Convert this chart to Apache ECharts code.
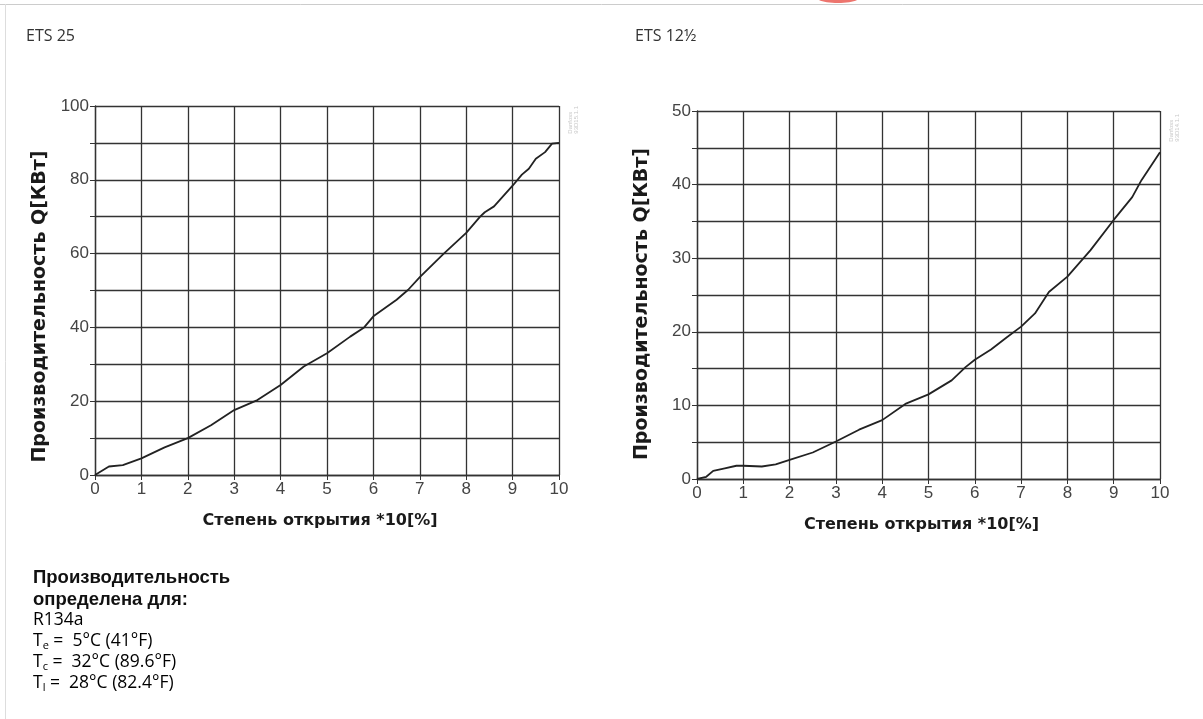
<!DOCTYPE html>
<html>
<head>
<meta charset="utf-8">
<script src="https://cdn.jsdelivr.net/npm/echarts@6/dist/echarts.min.js"></script>
<style>
html,body{margin:0;padding:0;background:#fff;}
#c{width:1203px;height:719px;}
</style>
</head>
<body>
<div id="c"></div>
<script>
// ETS 25: valve opening (*10 %) vs capacity Q [kW]
const open25 = [0,0.3,0.6,1,1.5,2,2.5,3,3.5,4,4.5,5,5.5,5.8,6,6.5,6.75,7,7.5,8,8.3,8.4,8.6,9,9.2,9.35,9.5,9.7,9.85,10];
const q25    = [0,2.3,2.7,4.5,7.5,10,13.5,17.6,20.3,24.4,29.4,33,37.5,40,43,47.5,50.2,53.6,59.8,65.6,70,71.2,72.8,78.4,81.4,83,85.7,87.5,89.8,90];
// ETS 12½
const open12 = [0,0.2,0.35,0.6,0.85,1,1.4,1.7,2,2.5,3,3.5,4,4.5,5,5.5,5.8,6,6.35,6.7,7,7.3,7.6,8,8.5,9,9.4,9.6,10];
const q12    = [0,0.3,1.1,1.45,1.8,1.8,1.7,2.0,2.6,3.6,5.1,6.7,8.0,10.2,11.5,13.4,15.2,16.2,17.6,19.3,20.7,22.5,25.4,27.5,31.1,35.2,38.3,40.6,44.4];

const titles = ['ETS 25', 'ETS 12½'];
const xName = 'Степень открытия *10[%]';
const yName = 'Производительность Q[КВт]';
const yMax = [100, 50];
const yStep = [10, 5];
const yLabelStep = [20, 10];

const chart = echarts.init(document.getElementById('c'), null, {renderer: 'canvas'});
const grids = [
  {left: 95, top: 106, width: 464, height: 369},
  {left: 697, top: 111, width: 463, height: 368}
];
const yNamePad = [[0, 32, 0, 0], [0, 18, 0, 0]];
function xAx(i){
  return {
    type: 'value', gridIndex: i, min: 0, max: 10, interval: 1,
    name: xName, nameLocation: 'middle', nameGap: 38,
    nameTextStyle: {fontFamily: 'DejaVu Sans', fontWeight: 'bold', fontSize: 16, color: '#1a1a1a', padding: [0, 14, 0, 0]},
    axisLine: {show: true, lineStyle: {color: '#333', width: 1.3}},
    axisTick: {show: true, length: 5, lineStyle: {color: '#333'}},
    axisLabel: {fontFamily: 'Liberation Sans', fontSize: 17, color: '#444', margin: 6},
    splitLine: {show: true, lineStyle: {color: '#333', width: 1.3}}
  };
}
function yAx(i){
  return {
    type: 'value', gridIndex: i, min: 0, max: yMax[i], interval: yStep[i],
    name: yName, nameLocation: 'middle', nameGap: 45,
    nameTextStyle: {fontFamily: 'DejaVu Sans', fontWeight: 'bold', fontSize: 19, color: '#1a1a1a', padding: yNamePad[i]},
    axisLine: {show: true, lineStyle: {color: '#333', width: 1.3}},
    axisTick: {show: true, length: 5, lineStyle: {color: '#333'}},
    axisLabel: {fontFamily: 'Liberation Sans', fontSize: 17, color: '#444', margin: 6,
      formatter: v => (v % yLabelStep[i] === 0 ? String(v) : '')},
    splitLine: {show: true, lineStyle: {color: '#333', width: 1.3}}
  };
}
const tStyle = {fontFamily: 'Open Sans', fontSize: 16, color: '#333', fontWeight: 'normal'};
const rich = {
  b: {fontFamily: 'Open Sans', fontSize: 17.5, color: '#333', lineHeight: 21},
  s: {fontFamily: 'Open Sans', fontSize: 11, color: '#333', verticalAlign: 'bottom', padding: [9,0,0,0], lineHeight: 21}
};
chart.setOption({
  animation: false,
  backgroundColor: '#fff',
  title: [
    {text: titles[0], left: 21, top: 23, textStyle: tStyle},
    {text: titles[1], left: 630, top: 23, textStyle: tStyle}
  ],
  grid: grids,
  xAxis: [xAx(0), xAx(1)],
  yAxis: [yAx(0), yAx(1)],
  series: [
    {type: 'line', xAxisIndex: 0, yAxisIndex: 0, showSymbol: false, symbol: 'none',
     lineStyle: {color: '#222', width: 1.8}, data: open25.map((x, k) => [x, q25[k]])},
    {type: 'line', xAxisIndex: 1, yAxisIndex: 1, showSymbol: false, symbol: 'none',
     lineStyle: {color: '#222', width: 1.8}, data: open12.map((x, k) => [x, q12[k]])}
  ],
  graphic: [
    {type: 'line', shape: {x1: 0, y1: 4.5, x2: 1203, y2: 4.5}, style: {stroke: '#ccc', lineWidth: 1}},
    {type: 'line', shape: {x1: 5.5, y1: 4, x2: 5.5, y2: 719}, style: {stroke: '#ddd', lineWidth: 1}},
    {type: 'ellipse', shape: {cx: 838, cy: -3, rx: 22, ry: 6}, style: {fill: '#e8534a', opacity: 0.8}},
    {type: 'text', left: 567, top: 106, rotation: Math.PI/2,
     style: {text: 'Danfoss\n93D15.1.1', font: '6px Liberation Sans', fill: '#c8c8c8'}},
    {type: 'text', left: 1168, top: 114, rotation: Math.PI/2,
     style: {text: 'Danfoss\n93D14.1.1', font: '6px Liberation Sans', fill: '#c8c8c8'}},
    {type: 'text', left: 33, top: 567,
     style: {text: 'Производительность\nопределена для:', font: 'bold 18.5px Liberation Sans', fill: '#111', lineHeight: 22}},
    {type: 'text', left: 33, top: 611,
     style: {text: '{b|R134a}\n{b|T}{s|e}{b| =  5°C (41°F)}\n{b|T}{s|c}{b| =  32°C (89.6°F)}\n{b|T}{s|l}{b| =  28°C (82.4°F)}', rich: rich}}
  ]
});
</script>
</body>
</html>
